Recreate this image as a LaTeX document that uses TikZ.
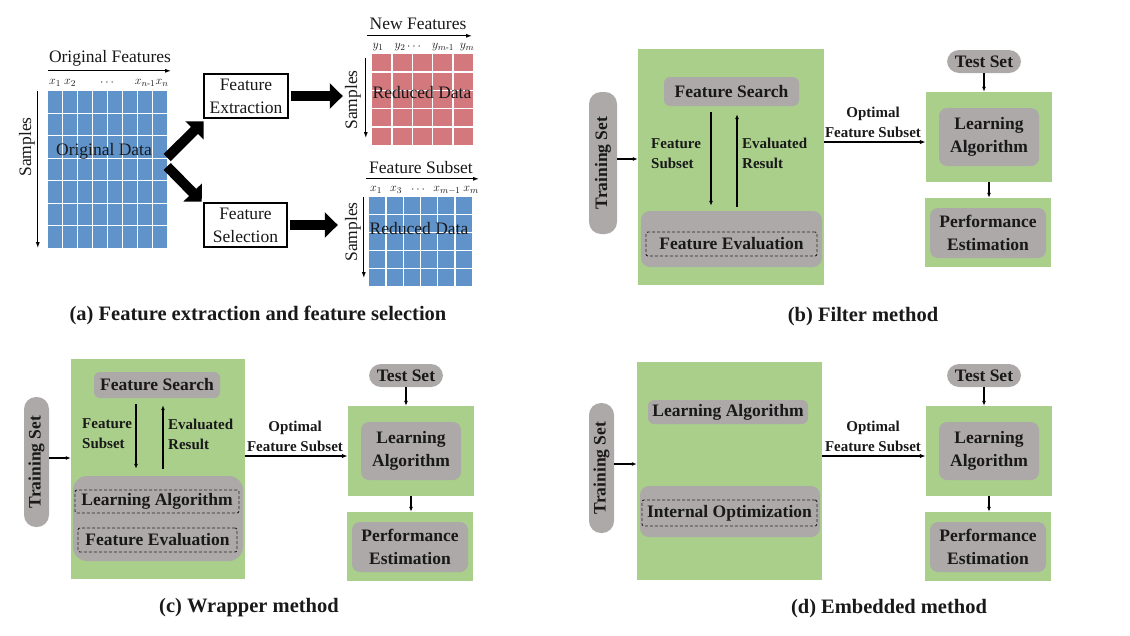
\documentclass[tikz,border=0pt]{standalone}
\usepackage{amsmath}
\usepackage{fontspec}
\setmainfont{Liberation Serif}
\usetikzlibrary{arrows.meta, calc}
\definecolor{cellblue}{HTML}{5F93CA}
\definecolor{cellred}{HTML}{D3787D}
\definecolor{boxgreen}{HTML}{A9CF8B}
\definecolor{boxgray}{HTML}{ADA9A9}

\begin{document}
\begin{tikzpicture}[x=1pt, y=-1pt,
    >=Latex,
    every node/.style={font=\fontsize{17.5}{23}\selectfont, inner sep=0pt, text=black!90},
    bold/.style={font=\fontsize{17.5}{23}\selectfont\bfseries, align=center},
    small/.style={font=\fontsize{15}{20}\selectfont\bfseries, align=left},
    captxt/.style={font=\fontsize{20.5}{24}\selectfont\bfseries},
    idx/.style={font=\fontsize{12.5}{12.5}\selectfont},
    cell/.style={white, line width=1.3pt},
    axis/.style={-{Latex[length=6pt,width=4pt]}, line width=1.2pt},
    xbox/.style={draw=black, line width=2.5pt, align=center},
    fat/.style={line width=10pt, -{Triangle[length=13pt,width=25pt]}},
    arr/.style={-{Latex[length=5pt,width=4pt]}, line width=1.1pt},
    optarr/.style={-{Latex[length=6pt,width=4.5pt]}, line width=1.8pt},
    grn/.style={fill=boxgreen},
    gry/.style={fill=boxgray, rounded corners=6pt},
    pill/.style={fill=boxgray, rounded corners=12pt},
    dsh/.style={draw=black!85, dash pattern=on 3pt off 2pt, line width=0.9pt, rounded corners=2pt}
  ]
  \useasboundingbox (0,0) rectangle (1130,635);

  % (a) data matrices
  \node[fill=cellblue, minimum width=119, minimum height=157] (orig) at (107.5,169.5) {};
  \node[fill=cellred, minimum width=101, minimum height=91] (newd) at (422.5,99.5) {};
  \node[fill=cellblue, minimum width=103, minimum height=89] (subd) at (420.5,241.5) {};
  \foreach \g/\c/\r in {orig/8/7, newd/5/5, subd/6/5} {
    \pgfmathtruncatemacro\cc{\c-1}
    \pgfmathtruncatemacro\rr{\r-1}
    \foreach \i in {1,...,\cc}
      \draw[cell] ($(\g.north west)!\i/\c!(\g.north east)$) -- ($(\g.south west)!\i/\c!(\g.south east)$);
    \foreach \j in {1,...,\rr}
      \draw[cell] ($(\g.north west)!\j/\r!(\g.south west)$) -- ($(\g.north east)!\j/\r!(\g.south east)$);
  }
  \node (origtxt) at (104,151) {Original Data};
  \node (newtxt) at (422,93) {Reduced Data};
  \node (subtxt) at (419,229) {Reduced Data};

  % feature axes
  \node (origft) at (110,58) {Original Features};
  \draw[axis] ([shift={(0,-20)}]orig.north west) -- ([shift={(4,-20)}]orig.north east);
  \foreach \p/\t [count=\k] in {55/x_1, 70/x_2, 108/\cdots, 145/x_{n\text{-}1}, 162/x_n}
    \node[idx] (ox\k) at (\p,83) {$\t$};
  \node (newft) at (418,24) {New Features};
  \draw[axis] ([shift={(-5,-18)}]newd.north west) -- ([shift={(-1,-18)}]newd.north east);
  \foreach \p/\t [count=\k] in {378/y_1, 400/y_2, 415/\cdots, 443/y_{m\text{-}1}, 467/y_m}
    \node[idx] (ny\k) at (\p,47) {$\t$};
  \node (subft) at (421,168) {Feature Subset};
  \draw[axis] ([shift={(-3,-18)}]subd.north west) -- ([shift={(7,-18)}]subd.north east);
  \foreach \p/\t [count=\k] in {376/x_1, 396/x_3, 419/\cdots, 447/x_{m-1}, 471/x_m}
    \node[idx] (sx\k) at (\p,190) {$\t$};

  % samples axes
  \draw[axis] ([shift={(-10,0)}]orig.north west) -- ([shift={(-10,0)}]orig.south west);
  \node[rotate=90] (osmp) at (27,147) {Samples};
  \draw[axis] ([shift={(-6,4)}]newd.north west) -- ([shift={(-6,-7)}]newd.south west);
  \node[rotate=90] (nsmp) at (353,100) {Samples};
  \draw[axis] ([shift={(-5,0)}]subd.north west) -- ([shift={(-5,-8)}]subd.south west);
  \node[rotate=90] (ssmp) at (353,232) {Samples};

  % extraction and selection
  \node[xbox, minimum width=84, minimum height=44] (fext) at (246,96) {Feature\\Extraction};
  \node[xbox, minimum width=83, minimum height=44] (fsel) at (245.5,225) {Feature\\Selection};
  \draw[fat] ([shift={(0,-12)}]orig.east) -- ([shift={(1,2)}]fext.south west);
  \draw[fat] ([shift={(0,-3)}]orig.east) -- ([shift={(-1,0)}]fsel.north west);
  \draw[fat, shorten <=2pt, shorten >=29pt] (fext.east) -- (fext.east -| newd.west);
  \draw[fat, shorten <=2pt, shorten >=31pt] (fsel.east) -- (fsel.east -| subd.west);

  % (b) filter method
  \node[pill, bold, rotate=90, minimum width=142, minimum height=28] (trainb) at (603,163) {Training Set};
  \node[grn, minimum width=186, minimum height=236] (bigb) at (731,167) {};
  \node[gry, bold, minimum width=135, minimum height=29] (fsb) at (731.5,91.5) {Feature Search};
  \node[gry, minimum width=181, minimum height=56, rounded corners=9pt] (evb) at (731.5,239) {};
  \node[dsh, bold, minimum width=171, minimum height=24] (feb) at (731.5,244) {Feature Evaluation};
  \draw[arr] ([shift={(-20.5,6)}]fsb.south) -- ([shift={(-20.5,-5)}]fsb.south |- evb.north);
  \draw[arr] ([shift={(5.5,-4)}]fsb.south |- evb.north) -- ([shift={(5.5,8)}]fsb.south);
  \node[small, anchor=west] (fsubb) at (651,154) {Feature\\Subset};
  \node[small, anchor=west] (evrb) at (742,153) {Evaluated\\Result};
  \draw[arr] ([shift={(0,-4)}]trainb.south) -- ([shift={(0,-4)}]trainb.south -| bigb.west);

  % (c) wrapper method
  \node[pill, bold, rotate=90, minimum width=130, minimum height=25] (trainc) at (36.5,462) {Training Set};
  \node[grn, minimum width=174, minimum height=220] (bigc) at (158,469) {};
  \node[gry, bold, minimum width=126, minimum height=26] (fsc) at (157,385) {Feature Search};
  \node[gry, minimum width=170, minimum height=85, rounded corners=14pt] (evc) at (158,518.5) {};
  \node[dsh, bold, minimum width=164, minimum height=23] (lac) at (157,501.5) {Learning Algorithm};
  \node[dsh, bold, minimum width=159, minimum height=24] (fec) at (157.5,540) {Feature Evaluation};
  \draw[arr] ([shift={(-21,6)}]fsc.south) -- ([shift={(-21,-7)}]fsc.south |- evc.north);
  \draw[arr] ([shift={(6,-7)}]fsc.south |- evc.north) -- ([shift={(6,7)}]fsc.south);
  \node[small, anchor=west] (fsubc) at (82,434) {Feature\\Subset};
  \node[small, anchor=west] (evrc) at (168,434) {Evaluated\\Result};
  \draw[arr] ([shift={(0,-4)}]trainc.south) -- ([shift={(0,-4)}]trainc.south -| bigc.west);

  % (d) embedded method
  \node[pill, bold, rotate=90, minimum width=130, minimum height=25] (traind) at (601.5,468) {Training Set};
  \node[grn, minimum width=185, minimum height=218] (bigd) at (729.5,471) {};
  \node[gry, bold, minimum width=160, minimum height=24] (lad) at (728,412) {Learning Algorithm};
  \node[gry, minimum width=180, minimum height=51, rounded corners=9pt] (iod) at (730,511.5) {};
  \node[dsh, bold, minimum width=175, minimum height=26] (ioin) at (729.5,513) {Internal Optimization};
  \draw[arr] ([shift={(0,-4)}]traind.south) -- ([shift={(0,-4)}]traind.south -| bigd.west);

  % learning and estimation blocks
  \foreach \p/\dx/\dy in {b/0/0, c/-578/314, d/0/314} {
    \begin{scope}[shift={(\dx,\dy)}]
      \node[pill, bold, minimum width=74, minimum height=23] (test\p) at (984,61.5) {Test Set};
      \node[grn, minimum width=126, minimum height=90] (lbox\p) at (989,137) {};
      \node[gry, bold, minimum width=100, minimum height=58, rounded corners=8pt] (alg\p) at (989,137) {Learning\\Algorithm};
      \node[grn, minimum width=126, minimum height=69] (pbox\p) at (988,232.5) {};
      \node[gry, bold, minimum width=116, minimum height=50, rounded corners=8pt] (perf\p) at (988,233) {Performance\\Estimation};
      \coordinate (op\p) at (874,142);
      \node[small, align=center, anchor=south] (opt\p) at (873,138) {Optimal\\Feature Subset};
    \end{scope}
    \draw[arr] (test\p.south) -- (test\p.south |- lbox\p.north);
    \draw[arr] (lbox\p.south) -- (lbox\p.south |- pbox\p.north);
    \draw[optarr] (op\p -| big\p.east) -- (op\p -| lbox\p.west);
  }

  % captions
  \node[captxt] (capa) at (258,315) {(a) Feature extraction and feature selection};
  \node[captxt] (capb) at (863,317) {(b) Filter method};
  \node[captxt] (capc) at (249,608) {(c) Wrapper method};
  \node[captxt] (capd) at (889,609) {(d) Embedded method};
\end{tikzpicture}
\end{document}
